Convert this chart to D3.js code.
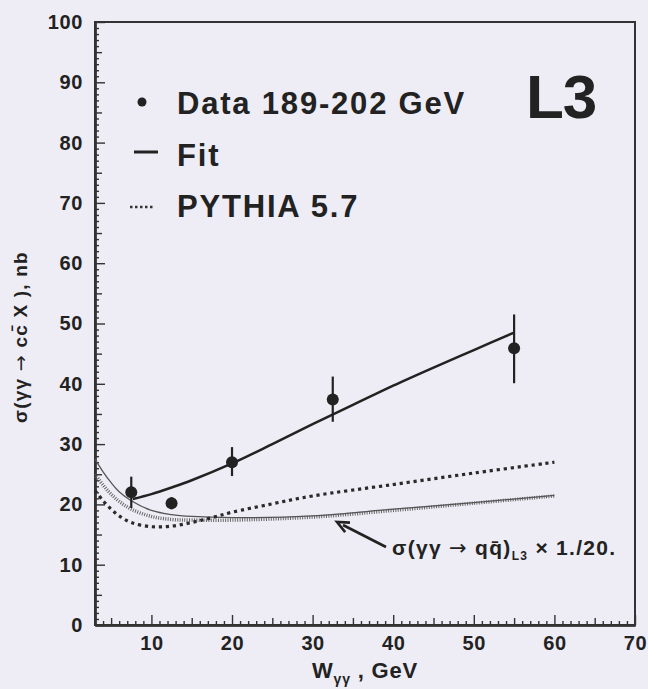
<!DOCTYPE html>
<html>
<head>
<meta charset="utf-8">
<script src="https://cdn.jsdelivr.net/npm/d3@7"></script>
<style>
  html, body { margin: 0; padding: 0; background: #eeecf4; }
  svg { display: block; }
  text { font-family: "Liberation Sans", Arial, Helvetica, sans-serif; font-weight: bold; fill: #222; }
</style>
</head>
<body>
<svg id="chart" width="648" height="689"></svg>
<script>
// Measured charm cross-section points (W in GeV, sigma in nb)
const dataW = [7.5, 12.5, 20, 32.5, 55];
const dataSigma = [22.0, 20.2, 27.0, 37.4, 45.9];
const dataErrUp = [2.6, 1.0, 2.5, 3.8, 5.6];
const dataErrDown = [2.6, 1.0, 2.3, 3.7, 5.8];

// Fit to the data
const fitW = [7.7, 10, 12.5, 15, 20, 25, 30, 35, 40, 45, 50, 55];
const fitSigma = [20.9, 21.7, 22.8, 24.0, 26.8, 30.0, 33.3, 36.5, 39.7, 42.7, 45.6, 48.5];

// PYTHIA 5.7 prediction
const pythiaW = [3, 4, 5, 6, 7.5, 10, 12.5, 15, 17.5, 20, 25, 30, 40, 50, 60];
const pythiaSigma = [22.3, 20.6, 19.2, 18.1, 17.0, 16.3, 16.4, 17.0, 17.8, 18.7, 20.1, 21.4, 23.3, 25.2, 27.0];

// Total hadronic qq cross-section (L3), scaled by 1/20: smooth parametrisation and measured band
const qqW = [3, 4, 5, 6, 7.5, 10, 12.5, 15, 20, 30, 40, 50, 60];
const qqSmooth = [27.5, 25.4, 23.6, 22.1, 20.6, 19.0, 18.3, 18.0, 17.8, 18.1, 19.2, 20.3, 21.5];
const qqMeasured = [25.0, 23.2, 21.7, 20.5, 19.2, 18.0, 17.5, 17.4, 17.4, 17.9, 19.0, 20.2, 21.4];

// Axis ticks
const xTicks = [10, 20, 30, 40, 50, 60, 70];
const yTicks = [0, 10, 20, 30, 40, 50, 60, 70, 80, 90, 100];

const svg = d3.select("#chart");
const plotLeft = 95, plotRight = 635, plotTop = 22, plotBottom = 625;

const x = d3.scaleLinear().domain([3, 70]).range([plotLeft, plotRight]);
const y = d3.scaleLinear().domain([0, 100]).range([plotBottom, plotTop]);

// Frame
svg.append("rect")
  .attr("x", plotLeft).attr("y", plotTop)
  .attr("width", plotRight - plotLeft).attr("height", plotBottom - plotTop)
  .attr("fill", "none").attr("stroke", "#333").attr("stroke-width", 2);

// Minor and medium ticks
const xMinor = d3.range(4, 71, 1).filter(v => v % 10 !== 0);
const yMinor = d3.range(1, 100, 1).filter(v => v % 10 !== 0);

function styleAxis(g) {
  g.selectAll("path.domain").attr("stroke", "#333").attr("stroke-width", 2);
  g.selectAll(".tick line").attr("stroke", "#333").attr("stroke-width", 1.4);
}

svg.append("g").attr("transform", `translate(0,${plotBottom})`)
  .call(d3.axisBottom(x).tickValues(xMinor.filter(v => v % 5 !== 0)).tickSize(-4).tickSizeOuter(0).tickFormat(""))
  .call(styleAxis);
svg.append("g").attr("transform", `translate(0,${plotBottom})`)
  .call(d3.axisBottom(x).tickValues(xMinor.filter(v => v % 5 === 0)).tickSize(-7).tickSizeOuter(0).tickFormat(""))
  .call(styleAxis);
svg.append("g").attr("transform", `translate(${plotLeft},0)`)
  .call(d3.axisLeft(y).tickValues(yMinor.filter(v => v % 5 !== 0)).tickSize(-4).tickSizeOuter(0).tickFormat(""))
  .call(styleAxis);
svg.append("g").attr("transform", `translate(${plotLeft},0)`)
  .call(d3.axisLeft(y).tickValues(yMinor.filter(v => v % 5 === 0)).tickSize(-7).tickSizeOuter(0).tickFormat(""))
  .call(styleAxis);

// Major ticks with labels
function styleLabels(g) {
  g.selectAll("text").attr("font-size", 20).attr("fill", "#222")
    .attr("letter-spacing", 0.6)
    .attr("font-family", "'Liberation Sans', Arial, sans-serif").attr("font-weight", "bold");
}
svg.append("g").attr("transform", `translate(0,${plotBottom})`)
  .call(d3.axisBottom(x).tickValues(xTicks).tickSize(-10).tickSizeOuter(0).tickPadding(11).tickFormat(d3.format("d")))
  .call(styleAxis).call(styleLabels);

svg.append("g").attr("transform", `translate(${plotLeft},0)`)
  .call(d3.axisLeft(y).tickValues(yTicks).tickSize(-10).tickSizeOuter(0).tickPadding(12).tickFormat(d3.format("d")))
  .call(styleAxis).call(styleLabels);

// Curves
const line = (xs, ys) => d3.line().curve(d3.curveCatmullRom)
  .x((d, i) => x(xs[i])).y((d, i) => y(ys[i]))(xs);

svg.append("path").attr("d", line(qqW, qqMeasured))
  .attr("fill", "none").attr("stroke", "#666").attr("stroke-width", 3.5)
  .attr("stroke-dasharray", "1 1.4");
svg.append("path").attr("d", line(qqW, qqSmooth))
  .attr("fill", "none").attr("stroke", "#555").attr("stroke-width", 1.3);
svg.append("path").attr("d", line(pythiaW, pythiaSigma))
  .attr("fill", "none").attr("stroke", "#2a2a2a").attr("stroke-width", 3.2)
  .attr("stroke-dasharray", "3.2 3.8");
svg.append("path").attr("d", line(fitW, fitSigma))
  .attr("fill", "none").attr("stroke", "#222").attr("stroke-width", 2.5);

// Data points with error bars
const pts = svg.append("g");
dataW.forEach((w, i) => {
  pts.append("line")
    .attr("x1", x(w)).attr("x2", x(w))
    .attr("y1", y(dataSigma[i] + dataErrUp[i])).attr("y2", y(dataSigma[i] - dataErrDown[i]))
    .attr("stroke", "#222").attr("stroke-width", 2.2);
  pts.append("circle")
    .attr("cx", x(w)).attr("cy", y(dataSigma[i])).attr("r", 6)
    .attr("fill", "#222");
});

// Legend
const lg = svg.append("g");
lg.append("circle").attr("cx", 142).attr("cy", 102).attr("r", 4.5).attr("fill", "#222");
lg.append("text").attr("x", 177).attr("y", 114).attr("font-size", 31).attr("letter-spacing", 1.8)
  .text("Data 189-202 GeV");
lg.append("line").attr("x1", 134).attr("x2", 158).attr("y1", 152).attr("y2", 152)
  .attr("stroke", "#222").attr("stroke-width", 3);
lg.append("text").attr("x", 177).attr("y", 166).attr("font-size", 31).attr("letter-spacing", 1.8)
  .text("Fit");
lg.append("line").attr("x1", 130).attr("x2", 154).attr("y1", 207).attr("y2", 207)
  .attr("stroke", "#333").attr("stroke-width", 2.5).attr("stroke-dasharray", "2.5 2.5");
lg.append("text").attr("x", 177).attr("y", 217).attr("font-size", 31).attr("letter-spacing", 1.8)
  .text("PYTHIA 5.7");

svg.append("text").attr("x", 526).attr("y", 118).attr("font-size", 62)
  .attr("letter-spacing", -1).text("L3");

// Annotation with arrow
const arrowEnd = [337, 522], arrowStart = [386, 547];
svg.append("line")
  .attr("x1", arrowStart[0]).attr("y1", arrowStart[1])
  .attr("x2", arrowEnd[0] + 6).attr("y2", arrowEnd[1] + 3)
  .attr("stroke", "#222").attr("stroke-width", 2.6);
{
  const ang = Math.atan2(arrowEnd[1] - arrowStart[1], arrowEnd[0] - arrowStart[0]);
  const L = 13, spread = 0.42;
  const p1 = [arrowEnd[0] - L * Math.cos(ang - spread), arrowEnd[1] - L * Math.sin(ang - spread)];
  const p2 = [arrowEnd[0] - L * Math.cos(ang + spread), arrowEnd[1] - L * Math.sin(ang + spread)];
  svg.append("path")
    .attr("d", `M${p1[0]},${p1[1]} L${arrowEnd[0]},${arrowEnd[1]} L${p2[0]},${p2[1]}`)
    .attr("fill", "none").attr("stroke", "#222").attr("stroke-width", 2.6);
}
const ann = svg.append("text").attr("x", 392).attr("y", 555).attr("font-size", 21).attr("letter-spacing", 1.3);
ann.append("tspan").text("σ(γγ ");
ann.append("tspan").attr("font-family", "'DejaVu Sans', sans-serif").attr("font-weight", "normal").text("→");
ann.append("tspan").text(" qq\u0304)");
ann.append("tspan").attr("font-size", 12).attr("dy", 5).text("L3");
ann.append("tspan").attr("dy", -5).text(" × 1./20.");

// Axis titles
const xt = svg.append("text").attr("x", 312).attr("y", 678).attr("font-size", 22).attr("letter-spacing", 0.8);
xt.append("tspan").text("W");
xt.append("tspan").attr("font-size", 14).attr("dy", 6).text("γγ");
xt.append("tspan").attr("dy", -6).text(" , GeV");

const yt = svg.append("text")
  .attr("transform", "translate(27,337) rotate(-90)")
  .attr("text-anchor", "middle").attr("font-size", 19).attr("letter-spacing", 1.2);
yt.append("tspan").text("σ(γγ ");
yt.append("tspan").attr("font-family", "'DejaVu Sans', sans-serif").attr("font-weight", "normal").text("→");
yt.append("tspan").text(" cc\u0304 X ), nb");
</script>
</body>
</html>
